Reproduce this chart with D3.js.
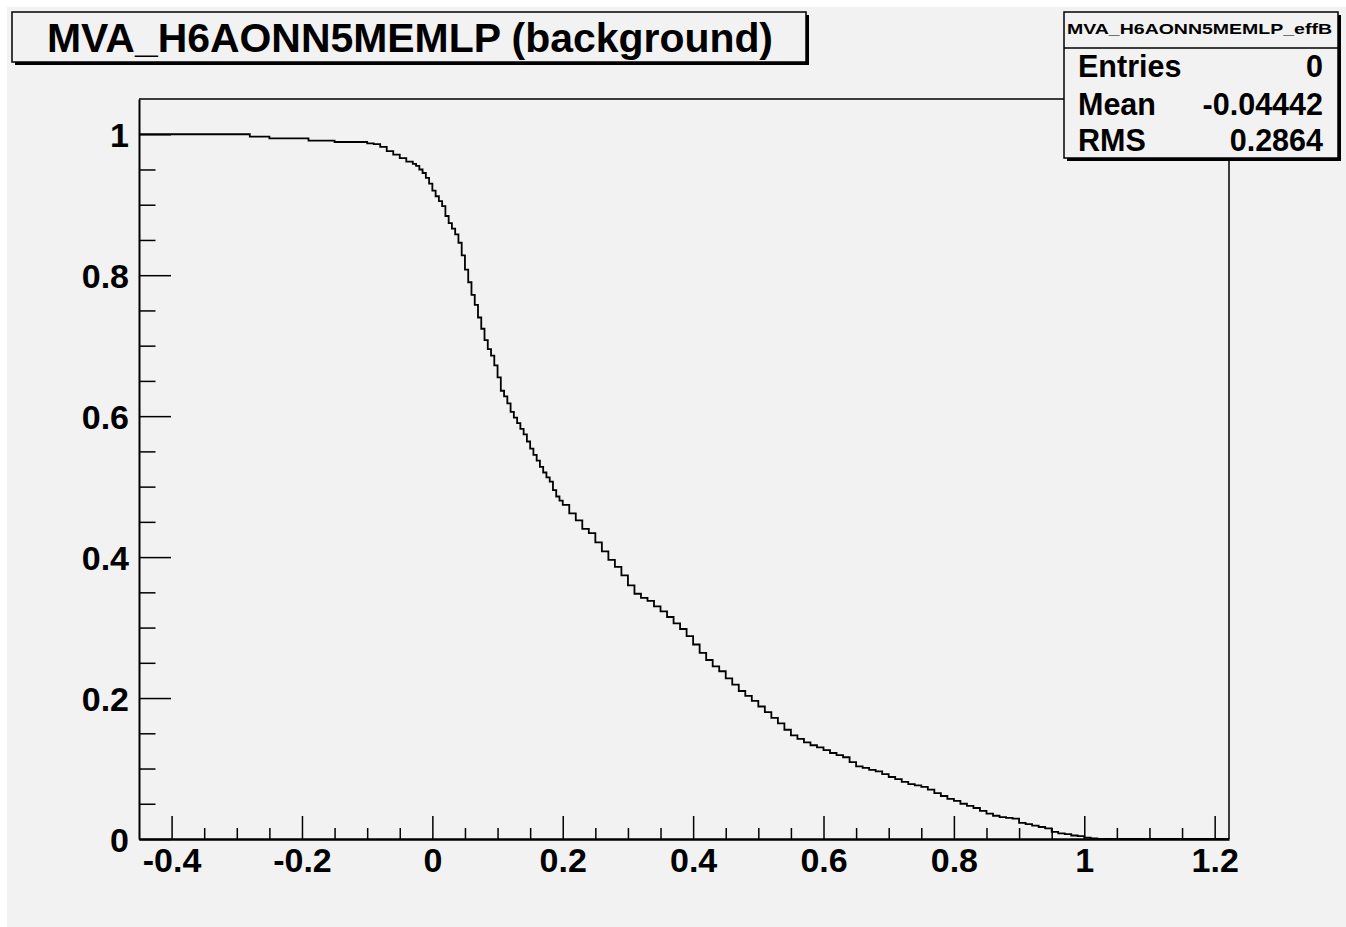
<!DOCTYPE html>
<html>
<head>
<meta charset="utf-8">
<script src="https://cdn.jsdelivr.net/npm/d3@7"></script>
<style>
  body { margin: 0; background: #ffffff; }
  svg { display: block; }
  text { font-family: "Liberation Sans", Arial, Helvetica, sans-serif; font-weight: bold; fill: #000; }
</style>
</head>
<body>
<svg id="chart" width="1346" height="927"></svg>
<script>
// ---- data ----
const titleText = "MVA_H6AONN5MEMLP (background)";
const statsName = "MVA_H6AONN5MEMLP_effB";
const statsLabels = ["Entries", "Mean", "RMS"];
const statsValues = ["0", "-0.04442", "0.2864"];

const xTicksMajor = [-0.4, -0.2, 0, 0.2, 0.4, 0.6, 0.8, 1, 1.2];
const yTicksMajor = [0, 0.2, 0.4, 0.6, 0.8, 1];
const xDomain = [-0.45, 1.222];
const yDomain = [0, 1.05];

// MVA cut value (bin lower edge) and background efficiency
const cutX = [-0.45, -0.28, -0.25, -0.19, -0.15, -0.10,
  -0.09, -0.08, -0.07, -0.06, -0.05, -0.04, -0.03,
  -0.025, -0.020, -0.015, -0.010, -0.005,
  0.000, 0.005, 0.010, 0.015, 0.020, 0.025, 0.030, 0.035, 0.040, 0.045,
  0.050, 0.055, 0.060, 0.065, 0.070, 0.075, 0.080, 0.085, 0.090, 0.095,
  0.100, 0.105, 0.110, 0.115, 0.120, 0.125, 0.130, 0.135, 0.140, 0.145,
  0.150, 0.155, 0.160, 0.165, 0.170, 0.175, 0.180, 0.185, 0.190, 0.195,
  0.20, 0.21, 0.22, 0.23, 0.24, 0.25, 0.26, 0.27, 0.28, 0.29,
  0.30, 0.31, 0.32, 0.33, 0.34, 0.35, 0.36, 0.37, 0.38, 0.39,
  0.40, 0.41, 0.42, 0.43, 0.44, 0.45, 0.46, 0.47, 0.48, 0.49,
  0.50, 0.51, 0.52, 0.53, 0.54, 0.55, 0.56, 0.57, 0.58, 0.59,
  0.60, 0.61, 0.62, 0.63, 0.64, 0.65, 0.66, 0.67, 0.68, 0.69,
  0.70, 0.71, 0.72, 0.73, 0.74, 0.75, 0.76, 0.77, 0.78, 0.79,
  0.80, 0.81, 0.82, 0.83, 0.84, 0.85, 0.86, 0.87, 0.88, 0.89,
  0.90, 0.91, 0.92, 0.93, 0.94, 0.95, 0.96, 0.97, 0.98, 0.99,
  1.00, 1.01, 1.02, 1.222];
const effB = [1.000, 0.9966, 0.994, 0.991, 0.989, 0.987,
  0.986, 0.982, 0.976, 0.971, 0.966, 0.961, 0.958,
  0.955, 0.950, 0.945, 0.938, 0.930,
  0.920, 0.912, 0.905, 0.898, 0.884, 0.874, 0.866, 0.858, 0.846, 0.828,
  0.808, 0.790, 0.772, 0.758, 0.740, 0.724, 0.708, 0.695, 0.686, 0.672,
  0.655, 0.636, 0.628, 0.618, 0.606, 0.598, 0.590, 0.582, 0.574, 0.564,
  0.554, 0.545, 0.537, 0.528, 0.520, 0.513, 0.507, 0.495, 0.486, 0.480,
  0.474, 0.462, 0.452, 0.440, 0.434, 0.421, 0.408, 0.396, 0.386, 0.374,
  0.360, 0.348, 0.342, 0.338, 0.330, 0.323, 0.315, 0.306, 0.298, 0.288,
  0.276, 0.264, 0.254, 0.245, 0.238, 0.228, 0.219, 0.210, 0.203, 0.196,
  0.188, 0.180, 0.172, 0.164, 0.155, 0.147, 0.142, 0.137, 0.133, 0.130,
  0.126, 0.122, 0.119, 0.116, 0.109, 0.103, 0.101, 0.098, 0.096, 0.092,
  0.088, 0.085, 0.081, 0.078, 0.076, 0.074, 0.070, 0.065, 0.061, 0.057,
  0.054, 0.050, 0.047, 0.044, 0.040, 0.036, 0.033, 0.031, 0.030, 0.029,
  0.023, 0.021, 0.019, 0.017, 0.015, 0.010, 0.008, 0.007, 0.005, 0.004,
  0.002, 0.001, 0.000, 0.000];

// ---- drawing ----
const svg = d3.select("#chart");
const W = 1346, H = 927;
const frame = { left: 139, right: 1229, top: 99, bottom: 839 };

// canvas background
svg.append("rect").attr("x", 7).attr("y", 7).attr("width", W - 7).attr("height", H - 7)
  .attr("fill", "#f2f2f2");

const x = d3.scaleLinear().domain(xDomain).range([frame.left, frame.right]);
const y = d3.scaleLinear().domain(yDomain).range([frame.bottom, frame.top]);

const fmt = d => String(+d.toFixed(2));

// minor ticks every 0.05
const xMinor = d3.range(-0.45, 1.2201, 0.05).map(v => +v.toFixed(2))
  .filter(v => !xTicksMajor.some(m => Math.abs(m - v) < 1e-6) && v > xDomain[0] + 1e-6);
const yMinor = d3.range(0.05, 1.0501, 0.05).map(v => +v.toFixed(2))
  .filter(v => !yTicksMajor.some(m => Math.abs(m - v) < 1e-6) && v < yDomain[1] - 1e-6);

// frame top/right lines
svg.append("line").attr("x1", frame.left).attr("x2", frame.right)
  .attr("y1", frame.top).attr("y2", frame.top).attr("stroke", "#000").attr("stroke-width", 1.5);
svg.append("line").attr("x1", frame.right).attr("x2", frame.right)
  .attr("y1", frame.top).attr("y2", frame.bottom).attr("stroke", "#000").attr("stroke-width", 1.5);

// X axis
const gx = svg.append("g").attr("transform", `translate(0,${frame.bottom})`);
gx.call(d3.axisBottom(x).tickValues(xMinor).tickSizeInner(-11).tickSizeOuter(0).tickFormat(""));
gx.call(g => g.selectAll(".domain").remove());
const gx2 = svg.append("g").attr("transform", `translate(0,${frame.bottom})`);
gx2.call(d3.axisBottom(x).tickValues(xTicksMajor).tickSizeInner(-23).tickSizeOuter(0)
  .tickPadding(9).tickFormat(fmt));
gx2.select(".domain").attr("stroke-width", 2.5);
gx.selectAll(".tick line").attr("stroke-width", 1.5);
gx2.selectAll(".tick line").attr("stroke-width", 1.5);
gx2.selectAll("text").attr("font-size", 34).attr("font-family", null).attr("font-weight", "bold");

// Y axis
const gy = svg.append("g").attr("transform", `translate(${frame.left},0)`);
gy.call(d3.axisLeft(y).tickValues(yMinor).tickSizeInner(-16.5).tickSizeOuter(0).tickFormat(""));
gy.call(g => g.selectAll(".domain").remove());
const gy2 = svg.append("g").attr("transform", `translate(${frame.left},0)`);
gy2.call(d3.axisLeft(y).tickValues(yTicksMajor).tickSizeInner(-32).tickSizeOuter(0)
  .tickPadding(10).tickFormat(fmt));
gy2.select(".domain").attr("stroke-width", 2);
gy.selectAll(".tick line").attr("stroke-width", 1.5);
gy2.selectAll(".tick line").attr("stroke-width", 1.5);
gy2.selectAll("text").attr("font-size", 34).attr("font-family", null).attr("font-weight", "bold")
  .attr("dy", "0.36em");
svg.selectAll(".tick text").attr("fill", "#000");
svg.selectAll("g").attr("font-family", null);

// histogram curve (step)
const pts = cutX.map((v, i) => [v, effB[i]]);
const line = d3.line().x(d => x(d[0])).y(d => y(d[1])).curve(d3.curveStepAfter);
svg.append("path").attr("d", line(pts)).attr("fill", "none")
  .attr("stroke", "#000").attr("stroke-width", 1.8);

// title box
const tb = { x: 12, y: 12, w: 794, h: 50 };
svg.append("rect").attr("x", tb.x + 3).attr("y", tb.y + 3).attr("width", tb.w).attr("height", tb.h).attr("fill", "#000");
svg.append("rect").attr("x", tb.x).attr("y", tb.y).attr("width", tb.w).attr("height", tb.h)
  .attr("fill", "#f2f2f2").attr("stroke", "#000").attr("stroke-width", 1.5);
svg.append("text").attr("x", 47).attr("y", 52)
  .attr("font-size", 40).attr("textLength", 726).attr("lengthAdjust", "spacingAndGlyphs")
  .text(titleText);

// stats box
const sb = { x: 1064, y: 12, w: 274, h: 146 };
svg.append("rect").attr("x", sb.x + 3).attr("y", sb.y + 3).attr("width", sb.w).attr("height", sb.h).attr("fill", "#000");
svg.append("rect").attr("x", sb.x).attr("y", sb.y).attr("width", sb.w).attr("height", sb.h)
  .attr("fill", "#f2f2f2").attr("stroke", "#000").attr("stroke-width", 1.5);
svg.append("line").attr("x1", sb.x).attr("x2", sb.x + sb.w).attr("y1", 48).attr("y2", 48)
  .attr("stroke", "#000").attr("stroke-width", 1.5);
svg.append("text").attr("x", 1067).attr("y", 34).attr("font-size", 15)
  .attr("textLength", 265).attr("lengthAdjust", "spacingAndGlyphs").text(statsName);
const rowY = [77, 115, 151];
statsLabels.forEach((lab, i) => {
  svg.append("text").attr("x", 1078).attr("y", rowY[i]).attr("font-size", 30.5).text(lab);
  svg.append("text").attr("x", 1323).attr("y", rowY[i]).attr("font-size", 30.5)
    .attr("text-anchor", "end").text(statsValues[i]);
});
</script>
</body>
</html>
